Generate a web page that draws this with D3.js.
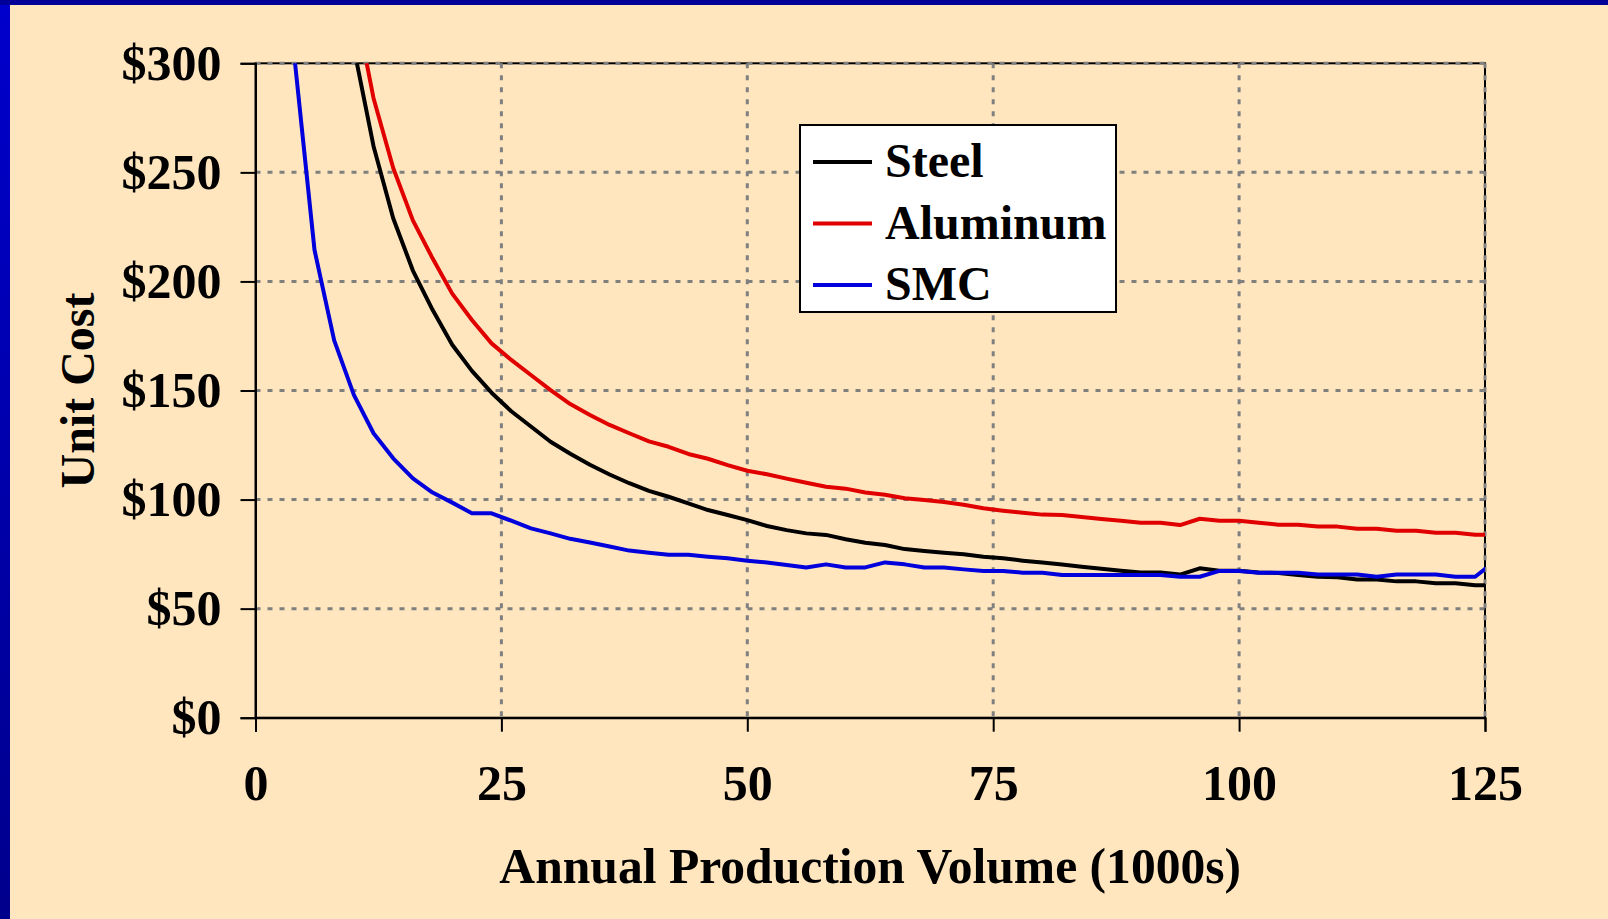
<!DOCTYPE html>
<html>
<head>
<meta charset="utf-8">
<script src="https://cdn.jsdelivr.net/npm/d3@7"></script>
<style>
  html, body { margin: 0; padding: 0; background: #FFE6BF; }
  svg { display: block; }
  text { font-family: "Liberation Serif", "Times New Roman", serif; font-weight: bold; }
</style>
</head>
<body>
<svg id="chart" width="1608" height="919"></svg>
<script>
// ---- data ----
const volumes = [2,4,6,8,10,12,14,16,18,20,22,24,26,28,30,32,34,36,38,40,42,44,46,48,50,52,54,56,58,60,62,64,66,68,70,72,74,76,78,80,82,84,86,88,90,92,94,96,98,100,102,104,106,108,110,112,114,116,118,120,122,124,126];
const steel = [1500,760,510,385,307,262,229,205,187,171,159,149,140.5,133.5,126.5,121,116,111.5,107.5,104,101.3,98.3,95.2,92.9,90.6,87.9,86,84.5,83.8,81.8,80.2,79.2,77.3,76.4,75.6,74.9,73.8,73.1,72,71.1,70.2,69.2,68.3,67.4,66.6,66.6,65.6,68.5,67.4,67.4,66.6,66.3,65.4,64.6,64.4,63.4,63.4,62.5,62.5,61.6,61.6,60.7,60.7];
const aluminum = [1600,820,550,415,330,284,252,228,210.6,194.4,182.3,171.6,164,157.1,150.2,143.8,138.8,134.2,130.4,126.7,124.2,120.9,118.7,115.8,113.2,111.6,109.6,107.7,105.9,105,103.2,102.2,100.6,99.8,98.9,97.6,96,94.9,94,93.1,92.9,92,91.1,90.3,89.4,89.4,88.3,91.2,90.3,90.3,89.4,88.5,88.5,87.6,87.6,86.6,86.6,85.7,85.7,84.8,84.8,83.9,83.9];
const smc = [600,301,214.4,173,148,130.4,118.9,109.7,103.2,98.6,93.7,93.7,90.3,86.8,84.5,82,80.3,78.5,76.6,75.6,74.7,74.7,73.8,73.1,72,71.1,70,68.9,70.3,68.9,68.9,71.2,70.3,68.9,68.9,68,67.3,67.3,66.5,66.5,65.4,65.4,65.4,65.4,65.4,65.4,64.6,64.6,67.3,67.3,66.5,66.5,66.5,65.6,65.6,65.6,64.6,65.6,65.6,65.6,64.6,64.6,71.7];
const seriesNames = ["Steel", "Aluminum", "SMC"];
const seriesColors = ["#000000", "#E00000", "#0000DD"];
const xTicks = [0, 25, 50, 75, 100, 125];
const yTicks = [0, 50, 100, 150, 200, 250, 300];
const xTitle = "Annual Production Volume (1000s)";
const yTitle = "Unit Cost";

// ---- layout ----
const W = 1608, H = 919;
const pL = 255.5, pR = 1485, pT = 63.3, pB = 717.7;
const svg = d3.select("#chart");

const defs = svg.append("defs");
const grad = defs.append("linearGradient").attr("id", "lband").attr("x1", 0).attr("y1", 0).attr("x2", 0).attr("y2", 1);
grad.append("stop").attr("offset", "0%").attr("stop-color", "#0000CC");
grad.append("stop").attr("offset", "100%").attr("stop-color", "#00008C");
defs.append("clipPath").attr("id", "plotclip").append("rect")
  .attr("x", pL).attr("y", pT).attr("width", pR - pL).attr("height", pB - pT);

svg.append("rect").attr("width", W).attr("height", H).attr("fill", "#FFE6BF");
svg.append("rect").attr("x", 0).attr("y", 0).attr("width", 10).attr("height", H).attr("fill", "url(#lband)");
svg.append("rect").attr("x", 0).attr("y", 0).attr("width", W).attr("height", 5).attr("fill", "#000099");

const x = d3.scaleLinear().domain([0, 125]).range([pL, pR]);
const y = d3.scaleLinear().domain([0, 300]).range([pB, pT]);

// plot frame
svg.append("rect").attr("x", pL).attr("y", pT).attr("width", pR - pL).attr("height", pB - pT)
  .attr("fill", "none").attr("stroke", "#000").attr("stroke-width", 2);

// gridlines
const grid = svg.append("g");
grid.selectAll("line.h").data(yTicks.filter(d => d > 0)).join("line").attr("class", "h")
  .attr("x1", pL).attr("x2", pR).attr("y1", d => y(d)).attr("y2", d => y(d))
  .attr("stroke", "#808080").attr("stroke-width", 3).attr("stroke-dasharray", "5,7");
grid.selectAll("line.v").data(xTicks.filter(d => d > 0)).join("line").attr("class", "v")
  .attr("y1", pT).attr("y2", pB).attr("x1", d => x(d)).attr("x2", d => x(d))
  .attr("stroke", "#808080").attr("stroke-width", 3).attr("stroke-dasharray", "5,7");

// axes
const yAxis = svg.append("g").attr("transform", `translate(${pL},0)`)
  .call(d3.axisLeft(y).tickValues(yTicks).tickSize(15).tickPadding(19).tickFormat(d => "$" + d));
const xAxis = svg.append("g").attr("transform", `translate(0,${pB})`)
  .call(d3.axisBottom(x).tickValues(xTicks).tickSize(14).tickPadding(33).tickFormat(d => d));
[yAxis, xAxis].forEach(g => {
  g.select(".domain").attr("stroke", "#000").attr("stroke-width", 2);
  g.selectAll(".tick line").attr("stroke", "#000").attr("stroke-width", 2);
  g.selectAll(".tick text").attr("fill", "#000").style("font-size", "50px")
    .style("font-family", '"Liberation Serif", "Times New Roman", serif').style("font-weight", "bold");
});

// series lines
const allSeries = [steel, aluminum, smc];
const line = d3.line().x((d, i) => x(volumes[i])).y(d => y(d));
const lines = svg.append("g").attr("clip-path", "url(#plotclip)");
allSeries.forEach((s, k) => {
  lines.append("path").datum(s).attr("d", line).attr("fill", "none")
    .attr("stroke", seriesColors[k]).attr("stroke-width", 4).attr("stroke-linejoin", "round");
});

// titles
svg.append("text").attr("x", (pL + pR) / 2).attr("y", 883).attr("text-anchor", "middle")
  .style("font-size", "49.6px").text(xTitle);
svg.append("text").attr("transform", `translate(94,${(pT + pB) / 2}) rotate(-90)`).attr("text-anchor", "middle")
  .style("font-size", "48px").text(yTitle);

// legend
const lg = svg.append("g");
lg.append("rect").attr("x", 800).attr("y", 125).attr("width", 316).attr("height", 187)
  .attr("fill", "#fff").attr("stroke", "#000").attr("stroke-width", 2);
seriesNames.forEach((n, k) => {
  const cy = 162 + k * 61.5;
  lg.append("line").attr("x1", 813).attr("x2", 872).attr("y1", cy).attr("y2", cy)
    .attr("stroke", seriesColors[k]).attr("stroke-width", 4);
  lg.append("text").attr("x", 885).attr("y", cy + 15).style("font-size", "48px").text(n);
});
</script>
</body>
</html>
